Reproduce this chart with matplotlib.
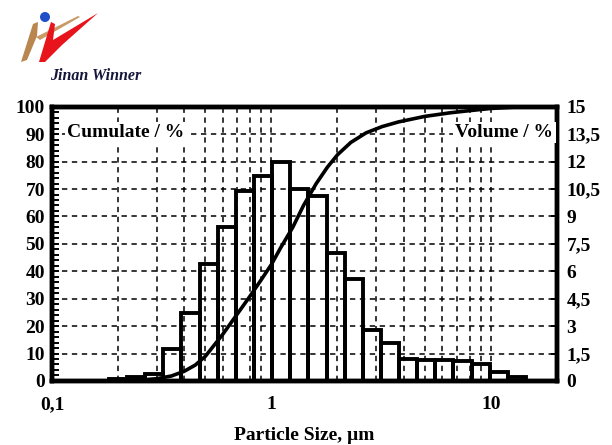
import matplotlib
matplotlib.use("Agg")
import matplotlib.pyplot as plt
from matplotlib.ticker import FixedLocator, MultipleLocator, NullFormatter
from matplotlib.patches import Polygon, Circle

# --- data ---
# bin edges (um) of the volume histogram
bin_edges = [0.182, 0.220, 0.266, 0.322, 0.389, 0.471, 0.570, 0.689, 0.833,
             1.008, 1.219, 1.474, 1.783, 2.157, 2.609, 3.155, 3.816, 4.615,
             5.582, 6.751, 8.166, 9.876, 11.95, 14.45]
volume = [0.1, 0.2, 0.4, 1.75, 3.7, 6.4, 8.4, 10.4, 11.2, 12.0, 10.5, 10.1,
          7.0, 5.6, 2.8, 2.1, 1.2, 1.15, 1.15, 1.1, 0.9, 0.5, 0.2]

# cumulative curve
cum_x = [0.18, 0.25, 0.30, 0.35, 0.40, 0.45, 0.50, 0.60, 0.70, 0.80, 0.90,
         1.0, 1.1, 1.25, 1.4, 1.6, 1.8, 2.0, 2.3, 2.7, 3.2, 3.8, 5.0, 6.5,
         8.0, 10, 13, 20]
cum_y = [0, 0.3, 0.8, 1.8, 3.5, 5.8, 9, 17, 24.5, 31, 37, 42.5, 48.5, 56,
         64, 72, 78, 82.5, 87, 90.5, 92.8, 94.5, 96.5, 97.8, 98.6, 99.4,
         99.9, 100]

x_ticks = [0.1, 1, 10]
x_labels = ["0,1", "1", "10"]
x_grid = [0.2, 0.3, 0.4, 0.5, 0.6, 0.7, 0.8, 0.9, 2, 3, 4, 5, 6, 7, 8, 9]
left_ticks = [0, 10, 20, 30, 40, 50, 60, 70, 80, 90, 100]
right_ticks = [0, 1.5, 3, 4.5, 6, 7.5, 9, 10.5, 12, 13.5, 15]
right_labels = ["0", "1,5", "3", "4,5", "6", "7,5", "9", "10,5", "12", "13,5", "15"]

SERIF = ["Liberation Serif", "DejaVu Serif"]
FS = 14

fig = plt.figure(figsize=(6.12, 4.45), dpi=100)
ax = fig.add_axes([0.085, 0.144, 0.825, 0.616])
ax2 = ax.twinx()

# bars (volume %)
widths = [bin_edges[i + 1] - bin_edges[i] for i in range(len(volume))]
ax2.bar(bin_edges[:-1], volume, width=widths, align="edge", fill=False,
        edgecolor="black", linewidth=2.8, zorder=3)

# cumulative line
ax.plot(cum_x, cum_y, color="black", linewidth=2.6, zorder=4)

ax.set_xscale("log")
ax.set_xlim(0.1, 20)
ax.set_ylim(0, 100)
ax2.set_ylim(0, 15)

ax.xaxis.set_major_locator(FixedLocator(x_ticks))
ax.set_xticklabels(x_labels)
ax.xaxis.set_minor_locator(FixedLocator(x_grid))
ax.xaxis.set_minor_formatter(NullFormatter())
ax.set_yticks(left_ticks)
ax.yaxis.set_minor_locator(MultipleLocator(2))
ax2.set_yticks(right_ticks)
ax2.set_yticklabels(right_labels)

ax.grid(True, which="both", axis="x", color="black", linewidth=1.1,
        linestyle=(0, (3.5, 3)))
ax.grid(True, which="major", axis="y", color="black", linewidth=1.1,
        linestyle=(0, (3.5, 3)))

ax.tick_params(axis="x", which="both", length=0, pad=11)
ax.tick_params(axis="y", which="major", direction="in", length=5, width=1.4, pad=5)
ax.tick_params(axis="y", which="minor", direction="in", length=5, width=1.4)
ax2.tick_params(axis="y", direction="in", length=4, width=1.4, pad=7)

for a in (ax, ax2):
    for s in a.spines.values():
        s.set_linewidth(3.2)
    for lab in a.get_xticklabels() + a.get_yticklabels():
        lab.set_fontfamily(SERIF)
        lab.set_fontweight("bold")
        lab.set_fontsize(FS)

ax.set_xlabel("Particle Size, µm", fontfamily=SERIF, fontweight="bold",
              fontsize=FS, labelpad=10)

box = dict(facecolor="white", edgecolor="none", pad=1.5)
ax2.text(0.030, 0.905, "Cumulate / %", transform=ax2.transAxes,
         fontfamily=SERIF, fontweight="bold", fontsize=FS, ha="left",
         va="center", bbox=box, zorder=10)
ax2.text(0.993, 0.905, "Volume / %", transform=ax2.transAxes,
         fontfamily=SERIF, fontweight="bold", fontsize=FS, ha="right",
         va="center", bbox=box, zorder=10)

# logo
lg = fig.add_axes([0, 1 - 90 / 445, 160 / 612, 90 / 445])
lg.set_xlim(0, 160)
lg.set_ylim(90, 0)
lg.axis("off")
lg.add_patch(Polygon([(21, 62), (33, 24), (38, 22), (37, 36), (27, 60)],
                     closed=True, color="#b8864e", lw=0))
lg.add_patch(Polygon([(36, 37), (78, 16), (80, 17), (40, 40)],
                     closed=True, color="#c89a66", lw=0))
lg.add_patch(Polygon([(39, 62), (51, 22), (55, 24), (53, 40), (98, 13),
                      (62, 45), (45, 62)],
                     closed=True, color="#e8141c", lw=0))
lg.add_patch(Circle((45, 17), 5, color="#1f4fc8", lw=0))
lg.text(50, 76, "Jinan Winner", fontfamily=SERIF, fontweight="bold",
        fontstyle="italic", fontsize=11.5, color="#14163a", va="center")

fig.savefig("out.png", dpi=100)
